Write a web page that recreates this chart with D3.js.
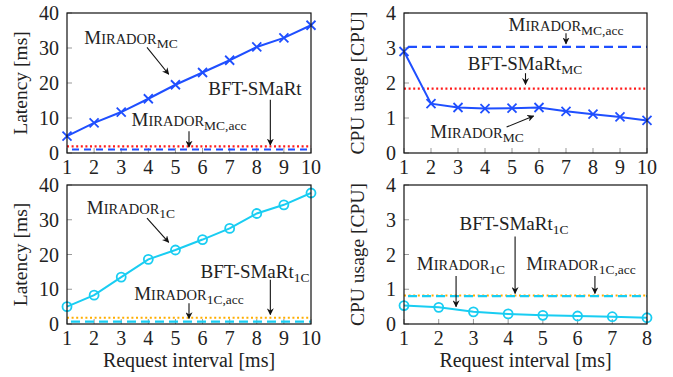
<!DOCTYPE html>
<html>
<head>
<meta charset="utf-8">
<script src="https://cdn.jsdelivr.net/npm/d3@7"></script>
<style>
  body { margin: 0; background: #fff; }
  svg text { font-family: "Liberation Serif", "DejaVu Serif", serif; fill: #222; }
</style>
</head>
<body>
<svg width="673" height="377"></svg>
<script>
// ### Data ###
var interval10 = [1, 2, 3, 4, 5, 6, 7, 8, 9, 10]
var interval8 = [1, 2, 3, 4, 5, 6, 7, 8]

var latencyMC = [4.8, 8.6, 11.7, 15.5, 19.5, 23.0, 26.5, 30.3, 32.9, 36.5]
var cpuMC = [2.9, 1.41, 1.30, 1.27, 1.28, 1.30, 1.19, 1.11, 1.03, 0.93]
var latency1C = [5.0, 8.3, 13.5, 18.6, 21.3, 24.3, 27.5, 31.8, 34.3, 37.7]
var cpu1C = [0.53, 0.48, 0.35, 0.29, 0.25, 0.23, 0.21, 0.18]

// constant reference levels
var latencyMCacc = 1.0, latencyBftMC = 1.9
var cpuMCacc = 3.03, cpuBftMC = 1.84
var latency1Cacc = 0.7, latencyBft1C = 1.8
var cpu1Cacc = 0.8, cpuBft1C = 0.82

var latencyTicks = [0, 10, 20, 30, 40]
var cpuTicks = [0, 1, 2, 3, 4]

var blue = '#1f4fff', cyan = '#19cdf2', red = '#ff1a1a', orange = '#ffae00'

var svg = d3.select('svg')

svg.append('defs').append('marker')
	.attr('id', 'arrow')
	.attr('viewBox', '0 0 10 10')
	.attr('refX', 9).attr('refY', 5)
	.attr('markerWidth', 7).attr('markerHeight', 7)
	.attr('markerUnits', 'userSpaceOnUse')
	.attr('orient', 'auto')
	.append('path')
	.attr('d', 'M0,0 L10,5 L0,10 L3,5 Z')
	.attr('fill', '#111')

// label like MIRADOR_MC (small caps + subscript)
function label(g, x, y, name, sub) {
	var t = g.append('text').attr('x', x).attr('y', y).attr('text-anchor', 'middle')
	if (name == 'MIRADOR') {
		t.append('tspan').attr('font-size', 19).text('M')
		t.append('tspan').attr('font-size', 14.5).text('IRADOR')
	} else {
		t.append('tspan').attr('font-size', 19).text(name)
	}
	if (sub) t.append('tspan').attr('font-size', 13.5).attr('dy', 4).text(sub)
}

function panel(cfg) {
	var x = d3.scaleLinear().domain([cfg.xs[0], cfg.xs[cfg.xs.length - 1]]).range([cfg.left, cfg.right])
	var y = d3.scaleLinear().domain([0, 4 * cfg.yStep]).range([cfg.bottom, cfg.top])
	var g = svg.append('g')

	// gray inward ticks
	g.selectAll('.yt').data(cfg.yTicks).enter().append('line')
		.attr('x1', cfg.left).attr('x2', cfg.left + 5)
		.attr('y1', d => y(d)).attr('y2', d => y(d))
		.attr('stroke', '#999').attr('stroke-width', 1)
	g.selectAll('.xt').data(cfg.xs).enter().append('line')
		.attr('x1', d => x(d)).attr('x2', d => x(d))
		.attr('y1', cfg.bottom).attr('y2', cfg.bottom - 5)
		.attr('stroke', '#999').attr('stroke-width', 1)

	// tick labels
	g.selectAll('.yl').data(cfg.yTicks).enter().append('text')
		.attr('x', cfg.left - 8).attr('y', d => y(d) + 7)
		.attr('text-anchor', 'end').attr('font-size', 20)
		.text(d => d)
	g.selectAll('.xl').data(cfg.xs).enter().append('text')
		.attr('x', d => x(d)).attr('y', cfg.bottom + 21)
		.attr('text-anchor', 'middle').attr('font-size', 20)
		.text(d => d)

	// axis labels
	g.append('text')
		.attr('transform', `translate(${cfg.left - 40},${(cfg.top + cfg.bottom) / 2}) rotate(-90)`)
		.attr('text-anchor', 'middle').attr('font-size', 19.5)
		.text(cfg.yLabel)
	if (cfg.xLabel) {
		g.append('text')
			.attr('x', (cfg.left + cfg.right) / 2).attr('y', cfg.bottom + 43)
			.attr('text-anchor', 'middle').attr('font-size', 20)
			.text(cfg.xLabel)
	}

	// reference lines
	var x0 = cfg.xs[0], x1 = cfg.xs[cfg.xs.length - 1]
	cfg.refs.forEach(function(r) {
		g.append('line')
			.attr('x1', x(x0) + (r.offset || 0)).attr('x2', x(x1))
			.attr('y1', y(r.value)).attr('y2', y(r.value))
			.attr('stroke', r.color).attr('stroke-width', 2.2)
			.attr('stroke-dasharray', r.dash)
	})

	// main series
	var line = d3.line().x((d, i) => x(cfg.xs[i])).y(d => y(d))
	g.append('path').datum(cfg.values)
		.attr('d', line).attr('fill', 'none')
		.attr('stroke', cfg.color).attr('stroke-width', 2)
	if (cfg.mark == 'x') {
		g.selectAll('.mk').data(cfg.values).enter().append('path')
			.attr('d', (d, i) => {
				var cx = x(cfg.xs[i]), cy = y(d), s = 4.5
				return `M${cx - s},${cy - s}L${cx + s},${cy + s}M${cx - s},${cy + s}L${cx + s},${cy - s}`
			})
			.attr('stroke', cfg.color).attr('stroke-width', 1.8)
	} else {
		g.selectAll('.mk').data(cfg.values).enter().append('circle')
			.attr('cx', (d, i) => x(cfg.xs[i])).attr('cy', d => y(d)).attr('r', 4.5)
			.attr('fill', 'none').attr('stroke', cfg.color).attr('stroke-width', 1.8)
	}

	// frame
	g.append('rect')
		.attr('x', cfg.left).attr('y', cfg.top)
		.attr('width', cfg.right - cfg.left).attr('height', cfg.bottom - cfg.top)
		.attr('fill', 'none').attr('stroke', '#111').attr('stroke-width', 1.2)

	// annotations
	cfg.notes.forEach(function(n) {
		label(g, n.tx, n.ty, n.name, n.sub)
		g.append('line')
			.attr('x1', x(n.from[0])).attr('y1', y(n.from[1]))
			.attr('x2', x(n.to[0])).attr('y2', y(n.to[1]))
			.attr('stroke', '#111').attr('stroke-width', 1.1)
			.attr('marker-end', 'url(#arrow)')
	})
}

panel({
	xs: interval10, values: latencyMC, color: blue, mark: 'x',
	left: 67, right: 311, top: 13, bottom: 153, yStep: 10, yTicks: latencyTicks,
	yLabel: 'Latency [ms]',
	refs: [
		{value: latencyMCacc, color: blue, dash: '7,5', offset: 5},
		{value: latencyBftMC, color: red, dash: '2,2.6'}
	],
	notes: [
		{tx: 131, ty: 44, name: 'MIRADOR', sub: 'MC', from: [3.95, 30.2], to: [4.75, 22.5]},
		{tx: 255, ty: 95, name: 'BFT-SMaRt', sub: '', from: [8.5, 15.2], to: [8.5, 2.3]},
		{tx: 189, ty: 126, name: 'MIRADOR', sub: 'MC,acc', from: [5.5, 6.2], to: [5.5, 1.7]}
	]
})

panel({
	xs: interval10, values: cpuMC, color: blue, mark: 'x',
	left: 404, right: 647, top: 13, bottom: 153, yStep: 1, yTicks: cpuTicks,
	yLabel: 'CPU usage [CPU]',
	refs: [
		{value: cpuMCacc, color: blue, dash: '9,5', offset: 4},
		{value: cpuBftMC, color: red, dash: '2,2.6'}
	],
	notes: [
		{tx: 566, ty: 31, name: 'MIRADOR', sub: 'MC,acc', from: [7.0, 3.42], to: [7.0, 3.12]},
		{tx: 525, ty: 70, name: 'BFT-SMaRt', sub: 'MC', from: [5.5, 2.28], to: [5.5, 1.96]},
		{tx: 477, ty: 138, name: 'MIRADOR', sub: 'MC', from: [4.8, 0.74], to: [5.8, 1.06]}
	]
})

panel({
	xs: interval10, values: latency1C, color: cyan, mark: 'o',
	left: 67, right: 311, top: 185, bottom: 324, yStep: 10, yTicks: latencyTicks,
	yLabel: 'Latency [ms]', xLabel: 'Request interval [ms]',
	refs: [
		{value: latency1Cacc, color: cyan, dash: '9,5', offset: 4},
		{value: latencyBft1C, color: orange, dash: '2,2.6'}
	],
	notes: [
		{tx: 131, ty: 214, name: 'MIRADOR', sub: '1C', from: [3.95, 30.5], to: [4.75, 23.5]},
		{tx: 255, ty: 278, name: 'BFT-SMaRt', sub: '1C', from: [8.5, 12.7], to: [8.5, 2.7]},
		{tx: 189, ty: 300, name: 'MIRADOR', sub: '1C,acc', from: [5.5, 6.0], to: [5.5, 1.6]}
	]
})

panel({
	xs: interval8, values: cpu1C, color: cyan, mark: 'o',
	left: 404, right: 647, top: 185, bottom: 324, yStep: 1, yTicks: cpuTicks,
	yLabel: 'CPU usage [CPU]', xLabel: 'Request interval [ms]',
	refs: [
		{value: cpuBft1C, color: orange, dash: '2,2.6'},
		{value: cpu1Cacc, color: cyan, dash: '9,5', offset: 4}
	],
	notes: [
		{tx: 514, ty: 230, name: 'BFT-SMaRt', sub: '1C', from: [4.2, 2.52], to: [4.2, 0.88]},
		{tx: 461, ty: 270, name: 'MIRADOR', sub: '1C', from: [2.5, 1.38], to: [2.5, 0.5]},
		{tx: 581, ty: 270, name: 'MIRADOR', sub: '1C,acc', from: [6.5, 1.38], to: [6.5, 0.88]}
	]
})
</script>
</body>
</html>
